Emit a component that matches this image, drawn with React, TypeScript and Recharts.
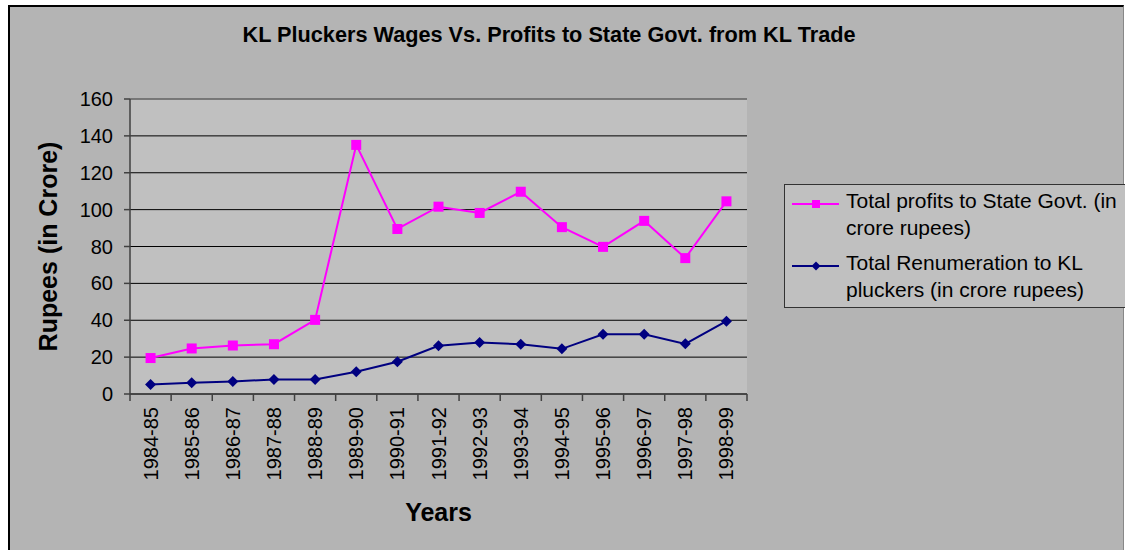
import { LineChart, Line, XAxis, YAxis, CartesianGrid, Legend, ReferenceLine, Label } from "recharts";

const FONT = "'Liberation Sans', Arial, sans-serif";

const years = [
  "1984-85", "1985-86", "1986-87", "1987-88", "1988-89", "1989-90", "1990-91", "1991-92",
  "1992-93", "1993-94", "1994-95", "1995-96", "1996-97", "1997-98", "1998-99",
];
const profits = [19.5, 24.7, 26.3, 27, 40.2, 135.1, 89.5, 101.6, 98.2, 109.7, 90.5, 79.8, 93.9, 73.7, 104.5];
const remuneration = [5.2, 6.1, 6.8, 7.9, 7.9, 12.1, 17.5, 26.2, 27.9, 27.0, 24.5, 32.4, 32.4, 27.2, 39.5];
const yTicks = [0, 20, 40, 60, 80, 100, 120, 140, 160];

const profitsName = "Total profits to State Govt. (in crore rupees)";
const payName = "Total Renumeration to KL pluckers (in crore rupees)";
const chartTitle = "KL Pluckers Wages Vs. Profits to State Govt. from KL Trade";

const PINK = "#ff00ff";
const NAVY = "#000080";
const AXIS = "#404040";

// plot is 617px wide, points sit in the middle of each category slot
const PLOT_W = 617;
const HALF_SLOT = PLOT_W / years.length / 2;

const data = years.map((year, i) => ({ year, profits: profits[i], pay: remuneration[i] }));

const Square = (props: any) => {
  const { cx, cy, index } = props;
  if (cx == null || cy == null) return null;
  return <rect key={`sq-${index}`} x={cx - 5} y={cy - 5} width={10} height={10} fill={PINK} />;
};

const Diamond = (props: any) => {
  const { cx, cy, index } = props;
  if (cx == null || cy == null) return null;
  const r = 5.5;
  return (
    <polygon
      key={`dm-${index}`}
      points={`${cx},${cy - r} ${cx + r},${cy} ${cx},${cy + r} ${cx - r},${cy}`}
      fill={NAVY}
    />
  );
};

// category labels rotated, with Excel style tick marks between categories
const YearTick = (props: any) => {
  const { x, y, payload, index } = props;
  const half = HALF_SLOT;
  const last = index === years.length - 1;
  return (
    <g>
      <line x1={x - half} x2={x - half} y1={y} y2={y + 7} stroke={AXIS} strokeWidth={1.5} />
      {last && <line x1={x + half} x2={x + half} y1={y} y2={y + 7} stroke={AXIS} strokeWidth={1.5} />}
      <text
        x={x + 7}
        y={y + 13}
        transform={`rotate(-90, ${x + 7}, ${y + 13})`}
        textAnchor="end"
        fontSize={20}
        fontFamily={FONT}
        fill="#000"
      >
        {payload.value}
      </text>
    </g>
  );
};

const XTitle = (props: any) => {
  const { viewBox } = props;
  return (
    <text x={viewBox.x + viewBox.width / 2} y={viewBox.y + 127} textAnchor="middle"
      fontSize={25} fontWeight="bold" fontFamily={FONT} fill="#000">
      Years
    </text>
  );
};

const YTitle = (props: any) => {
  const { viewBox } = props;
  const cy = viewBox.y + viewBox.height / 2;
  return (
    <text x={57} y={cy} transform={`rotate(-90, 57, ${cy})`} textAnchor="middle"
      fontSize={25} fontWeight="bold" fontFamily={FONT} fill="#000">
      Rupees (in Crore)
    </text>
  );
};

const LegendIcon = ({ dataKey }: { dataKey: string }) => (
  <svg width={47} height={26} style={{ flex: "none", marginRight: 7 }}>
    {dataKey === "profits" ? (
      <>
        <line x1={0} x2={47} y1={16} y2={16} stroke={PINK} strokeWidth={2} />
        <rect x={20} y={12} width={8} height={8} fill={PINK} />
      </>
    ) : (
      <>
        <line x1={0} x2={47} y1={16} y2={16} stroke={NAVY} strokeWidth={2} />
        <polygon points="24,11.5 28.5,16 24,20.5 19.5,16" fill={NAVY} />
      </>
    )}
  </svg>
);

const legendOrder = ["profits", "pay"];

const LegendBox = (props: any) => {
  const items = [...(props.payload ?? [])].sort(
    (a: any, b: any) => legendOrder.indexOf(a.dataKey) - legendOrder.indexOf(b.dataKey)
  );
  return (
    <div style={{
      border: "1px solid #333", background: "#c0c0c0", padding: "3px 0 4px 7px",
      fontFamily: FONT, fontSize: 21, lineHeight: "26.5px", color: "#000",
    }}>
      {items.map((item: any, i: number) => (
        <div key={item.dataKey} style={{ display: "flex", alignItems: "flex-start", marginTop: i ? 9 : 0 }}>
          <LegendIcon dataKey={item.dataKey} />
          <div style={{ flex: 1 }}>{item.value}</div>
        </div>
      ))}
    </div>
  );
};

export default function App() {
  return (
    <div style={{ position: "absolute", left: 0, top: 0, width: 1125, height: 550, background: "#fff", overflow: "hidden" }}>
      <div style={{
        position: "absolute", left: 8, top: 5, width: 1113, height: 600, background: "#b4b4b4",
        borderLeft: "2px solid #000", borderTop: "2px solid #000", borderRight: "1px solid #888",
      }} />
      <div style={{ position: "absolute", left: 0, top: 0 }}>
        <LineChart width={1125} height={550} data={data} margin={{ top: 99, right: 378, left: 0, bottom: 56 }}>
          <CartesianGrid vertical={false} stroke="#000" fill="#c0c0c0" fillOpacity={1} />
          <XAxis dataKey="year" height={100} tickSize={0} tickMargin={0} interval={0}
            padding={{ left: HALF_SLOT, right: HALF_SLOT }}
            axisLine={{ stroke: AXIS, strokeWidth: 1.5 }} tick={<YearTick />}>
            <Label content={XTitle} />
          </XAxis>
          <YAxis width={130} domain={[0, 160]} ticks={yTicks} interval={0} tickSize={6} tickMargin={11}
            axisLine={{ stroke: AXIS, strokeWidth: 1.5 }} tickLine={{ stroke: AXIS, strokeWidth: 1.5 }}
            tick={{ fontSize: 20, fill: "#000", fontFamily: FONT }}>
            <Label content={YTitle} />
          </YAxis>
          <YAxis yAxisId="r" orientation="right" width={0} domain={[0, 160]} tick={false} tickLine={false}
            axisLine={{ stroke: "#808080", strokeWidth: 1.5 }} />
          <ReferenceLine y={160} stroke="#808080" strokeWidth={1.5} />
          <Line dataKey="profits" name={profitsName} stroke={PINK} strokeWidth={2} dot={Square}
            activeDot={false} isAnimationActive={false} />
          <Line dataKey="pay" name={payName} stroke={NAVY} strokeWidth={2} dot={Diamond}
            activeDot={false} isAnimationActive={false} />
          <Legend layout="vertical" align="center" verticalAlign="middle" width={360}
            wrapperStyle={{ left: 784, top: 184, width: 360 }} content={LegendBox} />
          <text x={549} y={42} textAnchor="middle" fontSize={21.7} fontWeight="bold" fontFamily={FONT} fill="#000">
            {chartTitle}
          </text>
        </LineChart>
      </div>
    </div>
  );
}
